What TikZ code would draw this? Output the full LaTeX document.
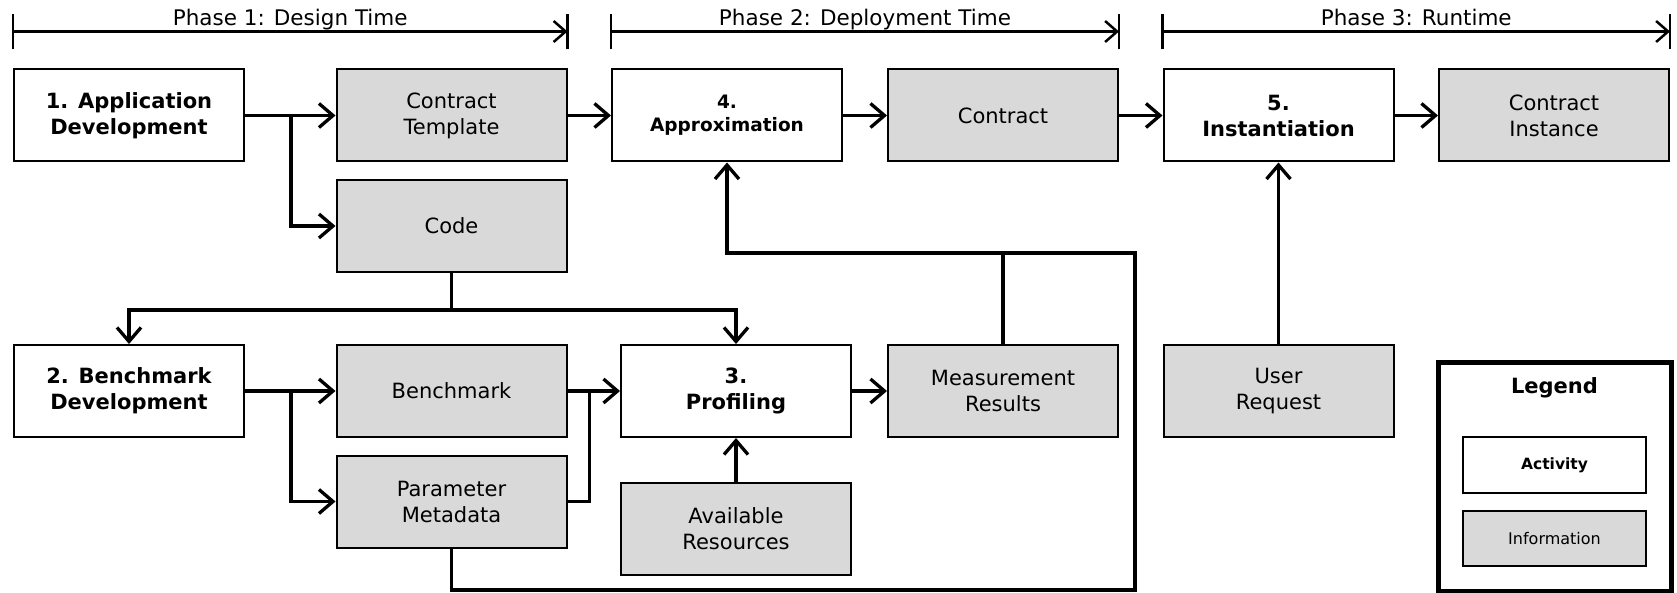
\documentclass[tikz,border=0pt]{standalone}
\usepackage{fontspec}
\setmainfont{DejaVu Sans}
\usetikzlibrary{arrows.meta}

\definecolor{infogray}{HTML}{D9D9D9}

\tikzset{
    box/.style={draw, line width=2pt, minimum width=230pt, minimum height=92pt, inner sep=2pt, align=center, font=\fontsize{21}{26}\selectfont},
    activity/.style={box, fill=white, font=\fontsize{21}{26}\selectfont\bfseries},
    info/.style={box, fill=infogray},
    conn/.style={line width=3.3pt},
    flow/.style={conn, -{Straight Barb[length=14pt, width=24pt]}},
    phaseline/.style={line width=2.5pt},
}

\begin{document}
\begin{tikzpicture}[x=1pt, y=-1pt]
    \useasboundingbox (0,0) rectangle (1677,593);

    % top row
    \node[activity] (appdev) at (129,115.5) {1. Application\\Development};
    \node[info] (tmpl) at (451.5,115.5) {Contract\\Template};
    \node[activity, font=\fontsize{18.5}{23}\selectfont\bfseries] (approx) at (727,115.5) {4.\\Approximation};
    \node[info] (contract) at (1003,115.5) {Contract};
    \node[activity] (inst) at (1278.5,115.5) {5.\\Instantiation};
    \node[info] (cinst) at (1554,115.5) {Contract\\Instance};

    \node[info] (code) at (451.5,226) {Code};

    % lower rows
    \node[activity] (bdev) at (129,391) {2. Benchmark\\Development};
    \node[info] (bench) at (451.5,391) {Benchmark};
    \node[info] (pm) at (451.5,501.5) {Parameter\\Metadata};
    \node[activity] (prof) at (736,391) {3.\\Profiling};
    \node[info] (meas) at (1003,391) {Measurement\\Results};
    \node[info] (res) at (736,528.5) {Available\\Resources};
    \node[info] (ureq) at (1278.5,391) {User\\Request};

    % phases
    \foreach \a/\b/\t in {appdev/tmpl/{Phase 1: Design Time}, approx/contract/{Phase 2: Deployment Time}, inst/cinst/{Phase 3: Runtime}} {
        \draw[phaseline] ([yshift=19pt]\a.north west) -- ([yshift=54pt]\a.north west);
        \draw[phaseline] ([yshift=19pt]\b.north east) -- ([yshift=54pt]\b.north east);
        \draw[phaseline, -{Straight Barb[length=12pt, width=21pt]}] ([yshift=37pt]\a.north west) -- ([yshift=37pt]\b.north east)
            node[midway, anchor=base, yshift=6pt, font=\fontsize{21.5}{26}\selectfont] {\t};
    }

    % design time
    \draw[flow] (appdev) -- (tmpl);
    \draw[flow] ([xshift=46pt]appdev.east) |- (code.west);
    \draw[flow] (tmpl) -- (approx);

    \coordinate (codesplit) at ([yshift=-37pt]code.south);
    \draw[conn] (code.south) -- (codesplit);
    \draw[flow] (codesplit) -| (bdev.north);
    \draw[flow] (codesplit) -| (prof.north);

    \draw[flow] (bdev) -- (bench);
    \draw[flow] ([xshift=46pt]bdev.east) |- (pm.west);
    \draw[flow] (bench) -- (prof);
    \draw[conn] (pm.east) -| ([xshift=22pt]bench.east);

    % profiling
    \draw[flow] (prof) -- (meas);
    \draw[flow] (res) -- (prof);

    % feedback to approximation
    \coordinate (fbtop) at (1135,253);
    \coordinate (fbbot) at (1135,590);
    \draw[conn] (meas.north) -- (meas.north |- fbtop);
    \draw[flow] (pm.south) |- (fbbot) -- (fbtop) -| (approx.south);

    % deployment and runtime
    \draw[flow] (approx) -- (contract);
    \draw[flow] (contract) -- (inst);
    \draw[flow] (inst) -- (cinst);
    \draw[flow] (ureq) -- (inst);

    % legend
    \node[draw, line width=5pt, minimum width=233pt, minimum height=229pt, inner sep=0pt] (legend) at (1554.5,476.5) {};
    \node[font=\fontsize{21}{25}\selectfont\bfseries] (legtitle) at (1554.5,388) {Legend};
    \node[activity, minimum width=183pt, minimum height=56pt, font=\fontsize{15.5}{18}\selectfont\bfseries] (legact) at (1554.5,465) {Activity};
    \node[info, minimum width=183pt, minimum height=55pt, font=\fontsize{16}{19}\selectfont] (leginfo) at (1554.5,538.5) {Information};
\end{tikzpicture}
\end{document}
